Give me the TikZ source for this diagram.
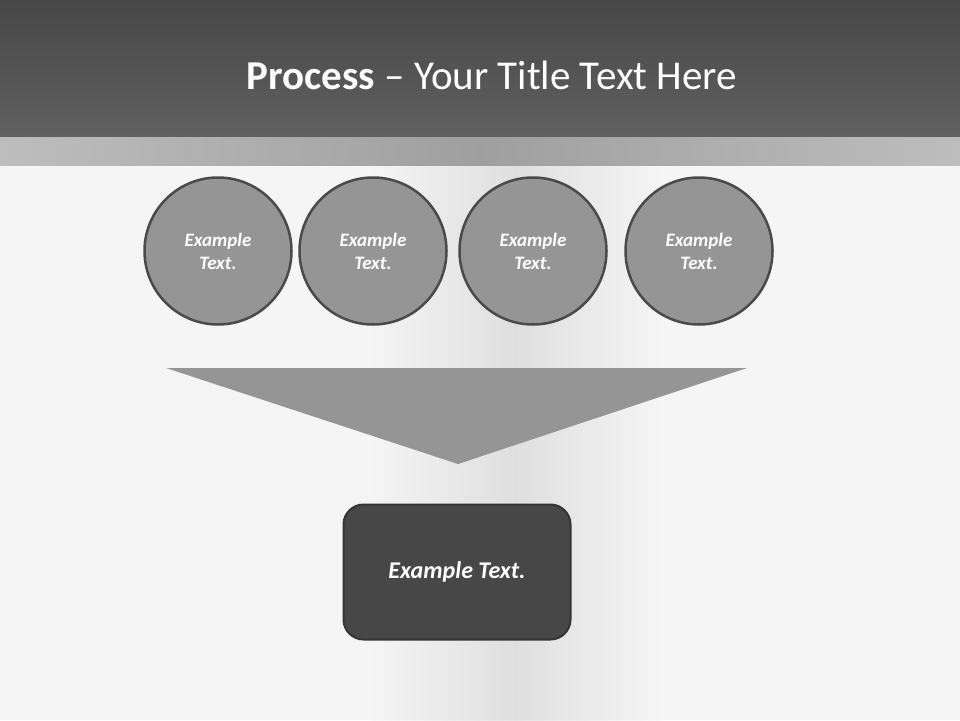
\documentclass[tikz,border=0pt]{standalone}
\usepackage{fontspec}
\setmainfont{Carlito}
\usetikzlibrary{positioning}
\definecolor{headtop}{HTML}{474747}
\definecolor{headbot}{HTML}{606060}
\definecolor{bandgray}{HTML}{BDBDBD}
\definecolor{pagebg}{HTML}{F5F5F5}
\definecolor{circfill}{HTML}{959595}
\definecolor{circline}{HTML}{4A4A4A}
\definecolor{boxfill}{HTML}{474747}
\definecolor{boxline}{HTML}{353535}
\tikzset{
  stepcircle/.style={circle, draw=circline, line width=2.5pt, fill=circfill,
    minimum size=147pt, inner sep=0pt, text=white, align=center,
    font=\fontsize{19}{23}\selectfont\bfseries\itshape},
  outbox/.style={rectangle, rounded corners=20pt, draw=boxline, line width=2pt,
    fill=boxfill, minimum width=227pt, minimum height=135pt, text=white,
    font=\fontsize{24}{28}\selectfont\bfseries\itshape}
}
\begin{document}
\begin{tikzpicture}[x=1pt,y=-1pt]
  \useasboundingbox (0,0) rectangle (960,720);
  % page and soft shadow
  \fill[pagebg] (0,0) rectangle (960,720);
  \shade[left color=pagebg, right color=pagebg, middle color=gray!45, opacity=0.45]
    (370,165) rectangle (660,720);
  % header
  \shade[top color=headtop, bottom color=headbot] (0,0) rectangle (960,137);
  \shade[left color=bandgray, right color=bandgray, middle color=gray!75] (0,137) rectangle (960,165);
  \node (title) at (492,75) [text=white, font=\fontsize{41}{45}\selectfont]
    {\textbf{Process} -- Your Title Text Here};

  % circles
  \foreach \cx [count=\i] in {218, 373, 533, 699} {
    \node (c\i) at (\cx,251) [stepcircle] {Example\\Text.};
  }

  % funnel
  \coordinate (fl) at (166,368);
  \coordinate (fr) at (747,368);
  \coordinate (fa) at (458,464);
  \fill[circfill] (fl) -- (fr) -- (fa) -- cycle;

  % result box
  \node (res) at (457,572) [outbox] {Example Text.};
\end{tikzpicture}
\end{document}
